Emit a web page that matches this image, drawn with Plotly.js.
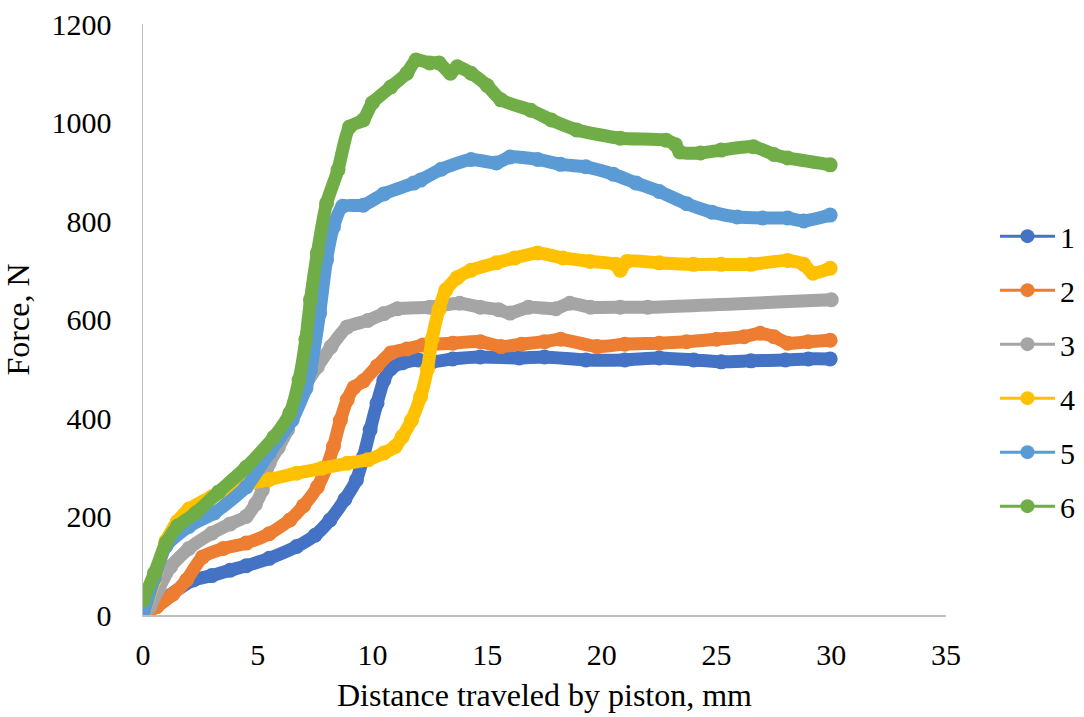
<!DOCTYPE html>
<html>
<head>
<meta charset="utf-8">
<script src="https://cdn.plot.ly/plotly-3.0.1.min.js"></script>
<style>html,body{margin:0;padding:0;background:#fff;}#chart{width:1084px;height:717px;}</style>
</head>
<body>
<div id="chart"></div>
<script>
// Series 1
const x1 = [0, 1, 2.2, 3, 3.8, 4.5, 5.5, 6.7, 7.5, 8.15, 8.8, 9.3, 9.6, 9.9, 10.2, 10.5, 10.8, 11.3, 12, 12.6, 13.5, 14.7, 16.4, 17.5, 19.3, 21, 22.5, 24, 25.2, 26.5, 28, 29, 29.95];
const y1 = [0, 35, 71, 80, 91, 100, 115, 139, 162, 193, 235, 274, 320, 376, 430, 477, 500, 512, 518, 514, 520, 524, 522, 524, 518, 518, 522, 518, 514, 516, 518, 520, 520];
// Series 2
const x2 = [0, 0.6, 1.3, 1.9, 2.6, 3.5, 4.5, 5.5, 6.4, 7.0, 7.6, 8.0, 8.3, 8.6, 8.9, 9.2, 9.6, 10.2, 10.8, 11.5, 12.2, 13.5, 14.7, 15.6, 16.5, 17.5, 18.2, 19.8, 21, 22.5, 23.7, 25, 26.2, 26.9, 27.5, 28.1, 29, 29.95];
const y2 = [0, 17, 42, 71, 118, 135, 146, 165, 193, 222, 260, 300, 342, 395, 437, 462, 475, 505, 532, 540, 548, 552, 555, 545, 550, 555, 560, 545, 550, 552, 555, 560, 565, 572, 565, 552, 555, 558];
// Series 3
const x3 = [0, 0.3, 0.7, 1.2, 2, 3, 3.8, 4.5, 4.9, 5.2, 5.5, 5.9, 6.3, 6.7, 7.1, 7.6, 8.2, 8.9, 9.8, 10.5, 11.1, 12.5, 13.8, 14.7, 15.5, 16, 16.8, 18, 18.6, 19.5, 20.8, 22, 30];
const y3 = [0, 17, 55, 98, 135, 166, 185, 200, 225, 254, 308, 340, 376, 443, 470, 504, 545, 585, 598, 612, 622, 625, 633, 625, 620, 613, 625, 622, 633, 625, 625, 625, 640];
// Series 4
const x4 = [0, 0.5, 1.0, 1.5, 2, 3, 4, 4.5, 5.5, 6.7, 7.8, 8.9, 9.8, 10.5, 11, 11.3, 11.7, 12.1, 12.4, 12.6, 12.9, 13.2, 13.7, 14.3, 15.4, 16.2, 17.2, 18.3, 19.5, 20.6, 20.8, 21.1, 22.5, 24, 25.2, 26.5, 28.1, 28.8, 29.2, 29.95];
const y4 = [0, 70, 150, 190, 215, 240, 255, 265, 275, 288, 298, 308, 315, 329, 342, 362, 395, 443, 500, 560, 620, 660, 685, 700, 715, 725, 735, 725, 718, 712, 700, 718, 715, 712, 712, 712, 720, 712, 694, 704];
// Series 5
const x5 = [0, 0.5, 1.0, 2, 3.1, 4.5, 5.5, 6.5, 7.1, 7.3, 7.7, 8.0, 8.3, 8.7, 9.6, 10.5, 11.8, 12.1, 13, 14.3, 15.4, 16, 17.2, 18.2, 19.3, 20.5, 21.5, 22.5, 23.7, 24.8, 25.9, 27, 28.1, 28.8, 29.95];
const y5 = [0, 75, 140, 180, 207, 260, 329, 396, 460, 497, 613, 721, 788, 830, 832, 855, 877, 883, 905, 925, 918, 930, 925, 915, 910, 895, 877, 860, 835, 818, 808, 806, 806, 800, 812];
// Series 6
const x6 = [0, 0.5, 1.0, 1.5, 2.3, 3.3, 4.5, 5.7, 6.4, 6.8, 7.1, 7.3, 7.6, 8.0, 8.5, 9.0, 9.6, 10.0, 10.8, 11.5, 11.9, 12.5, 12.9, 13.4, 13.7, 14.3, 15.0, 15.6, 16.9, 17.8, 18.9, 20.8, 22.8, 23.2, 23.4, 24.3, 25.2, 26.6, 27.5, 28.1, 29.95];
const y6 = [30, 85, 146, 180, 207, 250, 300, 361, 410, 477, 560, 640, 735, 836, 904, 991, 1005, 1040, 1072, 1100, 1127, 1121, 1121, 1100, 1113, 1100, 1075, 1046, 1025, 1005, 985, 968, 964, 955, 940, 938, 944, 951, 935, 928, 914];

const names = ['1', '2', '3', '4', '5', '6'];
const colors = ['#4472C4', '#ED7D31', '#A5A5A5', '#FFC000', '#5B9BD5', '#70AD47'];
const xs = [x1, x2, x3, x4, x5, x6];
const ys = [y1, y2, y3, y4, y5, y6];

const traces = [];
for (let i = 0; i < 6; i++) {
  traces.push({
    x: xs[i], y: ys[i], name: names[i], type: 'scatter', mode: 'lines+markers',
    line: {color: colors[i], width: 13, shape: 'spline', smoothing: 0.6},
    marker: {color: colors[i], size: 15},
    showlegend: false, hoverinfo: 'skip'
  });
}
for (let i = 0; i < 6; i++) {
  traces.push({
    x: [null], y: [null], name: names[i], type: 'scatter', mode: 'lines+markers',
    line: {color: colors[i], width: 3},
    marker: {color: colors[i], size: 14},
    legendgroup: 'g' + i, showlegend: true
  });
}

const fam = '"Liberation Serif", "Times New Roman", serif';
const tickFont = {family: fam, size: 30, color: '#000'};
const titleFont = {family: fam, size: 32, color: '#000'};
const legFont = {family: fam, size: 30, color: '#000'};
const layout = {
  width: 1084, height: 717,
  paper_bgcolor: '#fff', plot_bgcolor: '#fff',
  margin: {l: 143, r: 138, t: 24, b: 102, autoexpand: false},
  font: tickFont,
  showlegend: true,
  xaxis: {
    range: [0, 35], dtick: 5, tick0: 0, showgrid: false, zeroline: false,
    showline: true, linecolor: '#BFBFBF', linewidth: 1.5, ticks: '',
    ticklabelstandoff: 12, tickfont: tickFont, automargin: false,
    title: {text: 'Distance traveled by piston, mm', font: titleFont, standoff: 14}
  },
  yaxis: {
    range: [0, 1200], dtick: 200, tick0: 0, showgrid: false, zeroline: false,
    showline: true, linecolor: '#BFBFBF', linewidth: 1.5, ticks: '',
    ticklabelstandoff: 24, tickfont: tickFont, automargin: false,
    title: {text: 'Force, N', font: titleFont, standoff: 16}
  },
  legend: {
    x: 1.061, y: 0.685, xanchor: 'left', yanchor: 'top',
    font: legFont, tracegroupgap: 12, itemwidth: 55, bgcolor: 'rgba(0,0,0,0)'
  }
};
Plotly.newPlot('chart', traces, layout, {displayModeBar: false, staticPlot: true});
</script>
</body>
</html>
